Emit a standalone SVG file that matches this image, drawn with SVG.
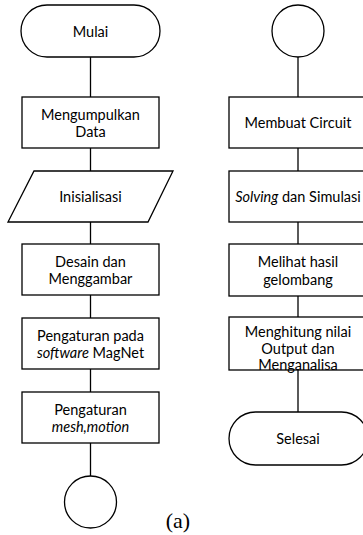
<svg xmlns="http://www.w3.org/2000/svg" width="363" height="535" viewBox="0 0 363 535">
<style>
.s{fill:#fff;stroke:#000;stroke-width:1.3}
.c{stroke:#000;stroke-width:1.3;fill:none}
.t{font-family:Lato,"Liberation Sans",sans-serif;font-size:14.5px;fill:#000;text-anchor:middle}
.i{font-style:italic}
</style>
<rect width="363" height="535" fill="#fff"/>
<g id="connectors">
<line class="c" x1="90.5" y1="57" x2="90.5" y2="97"/>
<line class="c" x1="90.5" y1="148" x2="90.5" y2="171"/>
<line class="c" x1="90.5" y1="222" x2="90.5" y2="244"/>
<line class="c" x1="90.5" y1="295" x2="90.5" y2="318"/>
<line class="c" x1="90.5" y1="369" x2="90.5" y2="392"/>
<line class="c" x1="90.5" y1="443" x2="90.5" y2="476"/>
<line class="c" x1="298" y1="57" x2="298" y2="97"/>
<line class="c" x1="298" y1="148" x2="298" y2="171"/>
<line class="c" x1="298" y1="222" x2="298" y2="244"/>
<line class="c" x1="298" y1="296" x2="298" y2="317"/>
<line class="c" x1="298" y1="370" x2="298" y2="412"/>
</g>
<g id="mulai"><rect class="s" x="21" y="5" width="139" height="52" rx="26" ry="26"/><text class="t" x="90.5" y="36.5">Mulai</text></g>
<g id="mengumpulkan"><rect class="s" x="22" y="97" width="137" height="51"/><text class="t" x="90.5" y="119.5">Mengumpulkan</text><text class="t" x="90.5" y="137">Data</text></g>
<g id="inisialisasi"><polygon class="s" points="34,171 173,171 148,222 8,222"/><text class="t" x="90.5" y="202">Inisialisasi</text></g>
<g id="desain"><rect class="s" x="22" y="244" width="137" height="51"/><text class="t" x="90.5" y="266.5">Desain dan</text><text class="t" x="90.5" y="284">Menggambar</text></g>
<g id="pengaturan-magnet"><rect class="s" x="22" y="318" width="137" height="51"/><text class="t" x="90.5" y="340.5">Pengaturan pada</text><text class="t" x="90.5" y="358"><tspan class="i">software</tspan> MagNet</text></g>
<g id="pengaturan-mesh"><rect class="s" x="22" y="392" width="137" height="51"/><text class="t" x="90.5" y="414.5">Pengaturan</text><text class="t i" x="90.5" y="432">mesh,motion</text></g>
<g id="connector-a"><circle class="s" cx="90.5" cy="502" r="26"/></g>
<g id="connector-b"><circle class="s" cx="298" cy="31" r="26"/></g>
<g id="membuat"><rect class="s" x="229" y="97" width="138" height="51"/><text class="t" x="298" y="128">Membuat Circuit</text></g>
<g id="solving"><rect class="s" x="229" y="171" width="138" height="51"/><text class="t" x="298" y="201.5"><tspan class="i">Solving</tspan> dan Simulasi</text></g>
<g id="melihat"><rect class="s" x="229" y="244" width="138" height="52"/><text class="t" x="298" y="267">Melihat hasil</text><text class="t" x="298" y="284.5">gelombang</text></g>
<g id="menghitung"><rect class="s" x="229" y="317" width="138" height="53"/><text class="t" x="298" y="336.5">Menghitung nilai</text><text class="t" x="298" y="353.5">Output dan</text><text class="t" x="298" y="370">Menganalisa</text></g>
<g id="selesai"><rect class="s" x="229" y="412" width="139" height="53" rx="26.5" ry="26.5"/><text class="t" x="298" y="444">Selesai</text></g>
<text x="178" y="528" font-family="'Liberation Serif',serif" font-size="22" text-anchor="middle">(a)</text>
</svg>
